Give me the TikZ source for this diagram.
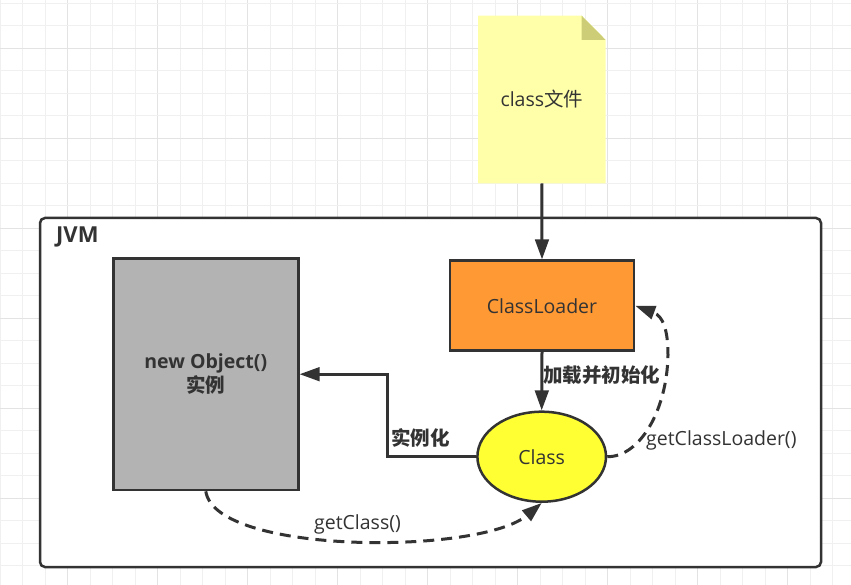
\documentclass[tikz,border=0pt]{standalone}
\usepackage{fontspec}
\setmainfont{Open Sans}
\newfontfamily\cjk{Noto Sans CJK SC}
\usetikzlibrary{arrows.meta,shapes.geometric}
\definecolor{ink}{HTML}{333333}
\definecolor{gridminor}{HTML}{F0F0F0}
\definecolor{gridmajor}{HTML}{E3E3E3}
\definecolor{notefill}{HTML}{FFFFAA}
\definecolor{notefold}{HTML}{CDCD77}
\definecolor{grayfill}{HTML}{B3B3B3}
\definecolor{orangefill}{HTML}{FF9933}
\definecolor{yellowfill}{HTML}{FFFF33}
\tikzset{
  box/.style={draw=ink, line width=2.5pt, inner sep=0pt, text=ink},
  conn/.style={draw=ink, line width=3pt, -{Triangle[length=20pt,width=13.5pt]}},
  dconn/.style={conn, dash pattern=on 11pt off 7pt},
  txt/.style={text=ink, inner sep=0pt, font=\fontsize{19.5}{24}\selectfont},
  cjkbold/.style={txt, font=\fontsize{19.5}{24}\selectfont\cjk\bfseries},
}
\begin{document}
\begin{tikzpicture}[x=1pt,y=-1pt]
\useasboundingbox (0,0) rectangle (851,585);
% background grid
\foreach \k in {0,...,37} {
  \pgfmathsetmacro\gx{0.2+22.5*\k}
  \pgfmathtruncatemacro\m{mod(\k,4)}
  \ifnum\m=3 \draw[gridmajor,line width=1pt] (\gx,0) -- (\gx,585);
  \else \draw[gridminor,line width=1pt] (\gx,0) -- (\gx,585); \fi
}
\foreach \k in {0,...,26} {
  \pgfmathsetmacro\gy{3.3+22.5*\k}
  \pgfmathtruncatemacro\m{mod(\k,4)}
  \ifnum\m=2 \draw[gridmajor,line width=1pt] (0,\gy) -- (851,\gy);
  \else \draw[gridminor,line width=1pt] (0,\gy) -- (851,\gy); \fi
}
% JVM container
\node[box, fill=white, rounded corners=5pt, minimum width=781pt, minimum height=349pt] (jvm) at (430.5,392.5) {};
\node[txt, anchor=base west, font=\fontsize{22}{26}\selectfont\bfseries] (jvmlabel) at (56,242.3) {JVM};
% note
\fill[notefill] (478,15.7) -- (581.7,15.7) -- (605.7,40) -- (605.7,183.3) -- (478,183.3) -- cycle;
\fill[notefold] (581.7,15.7) -- (581.7,40) -- (605.7,40) -- cycle;
\node[txt, minimum width=127.7pt, minimum height=167.6pt] (note) at (541.85,99.5) {class{\cjk 文件}};
% boxes
\node[box, fill=grayfill, minimum width=185pt, minimum height=231.7pt, align=center,
      font=\fontsize{19.5}{24}\selectfont\bfseries] (obj) at (205.8,374.2)
      {new Object()\\{\cjk\bfseries 实例}};
\node[box, fill=orangefill, minimum width=184pt, minimum height=90pt,
      font=\fontsize{19.5}{24}\selectfont] (cl) at (542,305.7) {ClassLoader};
\node[box, ellipse, fill=yellowfill, minimum width=128.6pt, minimum height=90pt,
      font=\fontsize{19.5}{24}\selectfont] (cls) at (541.7,456.7) {Class};
% connectors
\draw[conn] (note.south) -- (cl.north);
\draw[conn] (cl.south) -- (cls.north);
\draw[conn] (cls.west) -- ++(-89,0) |- (obj.east);
\draw[dconn] (obj.south) .. controls (215,555) and (480,555) .. (cls.south);
\draw[dconn] (cls.east) .. controls (640,457) and (667,410) .. (668,355)
   .. controls (668,330) and (663,316) .. (cl.east);
% labels
\node[cjkbold, anchor=west] (lload) at (543,375) {加载并初始化};
\node[cjkbold] (linst) at (420.4,438) {实例化};
\node[txt] (lgc) at (357.5,524) {getClass()};
\node[txt, anchor=west] (lgcl) at (646,440) {getClassLoader()};
\end{tikzpicture}
\end{document}
